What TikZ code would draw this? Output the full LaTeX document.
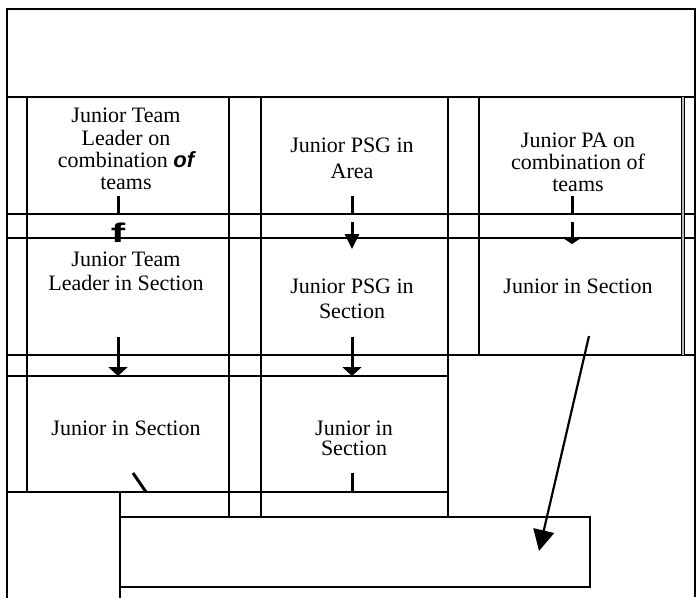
\documentclass[tikz,border=0pt]{standalone}
\usepackage{fontspec}
\usepackage{graphicx}
\setmainfont{Liberation Serif}
\newfontfamily\glitchfont{Liberation Sans}
\usetikzlibrary{arrows.meta}
\begin{document}
\begin{tikzpicture}[x=1pt,y=-1pt,
  grid/.style={line width=2.9pt, line cap=rect},
  edge/.style={line width=1.6pt},
  conn/.style={line width=3pt},
  tipA/.style={-{Triangle[length=9pt,width=19pt]}},
  tipB/.style={-{Triangle[length=15pt,width=14pt]}},
  tipC/.style={-{Triangle[length=6pt,width=18pt]}},
  tipD/.style={-{Triangle[length=21pt,width=21pt]}},
  lbl/.style={anchor=north, align=center, inner sep=0pt, font=\fontsize{22}{22.3}\selectfont},
]
\useasboundingbox (0,0) rectangle (696,597);

% outer frame
\draw[grid] (7,597) -- (7,9) -- (695,9);
\draw[edge] (695,9) -- (695,597);

% horizontal rules
\draw[grid] (7,97) -- (695,97);
\draw[grid] (7,214) -- (695,214);
\draw[grid] (7,238) -- (695,238);
\draw[grid] (7,355) -- (695,355);
\draw[grid] (7,376) -- (448,376);
\draw[grid] (7,492) -- (448,492);

% vertical rules
\draw[grid] (27,97) -- (27,492);
\draw[grid] (229,97) -- (229,517);
\draw[grid] (261,97) -- (261,517);
\draw[grid] (448,97) -- (448,517);
\draw[grid] (479,97) -- (479,355);
\fill[gray!55] (681,97) rectangle (685,355);
\draw[line width=1.1pt] (681.5,97) -- (681.5,355);
\draw[line width=1.1pt] (684.5,97) -- (684.5,355);
\draw[grid] (120,492) -- (120,597);

% lower box
\draw[grid] (120,517) -- (590,517) -- (590,587) -- (120,587);

% texts
\node[lbl] (tlc) at (126,108) {Junior Team\\Leader on\\combination {\glitchfont\bfseries\itshape of}\\teams};
\node[lbl, font=\fontsize{22}{24}\selectfont] (tls) at (126,251.5) {Junior Team\\Leader in Section};
\node[lbl, font=\fontsize{22}{26}\selectfont] (psga) at (352,138) {Junior PSG in\\Area};
\node[lbl, font=\fontsize{22}{25}\selectfont] (psgs) at (352,279) {Junior PSG in\\Section};
\node[lbl, font=\fontsize{22}{22}\selectfont] (pac) at (578,133) {Junior PA on\\combination of\\teams};
\node[lbl] (pas) at (578,279) {Junior in Section};
\node[lbl] (bls) at (126,421) {Junior in Section};
\node[lbl, font=\fontsize{22}{20}\selectfont] (bms) at (354,421) {Junior in\\Section};

% glyph-like arrowhead under first box
\node[anchor=base, inner sep=0pt, font=\glitchfont\fontsize{27}{27}\bfseries\selectfont] (fglyph) at (118,242) {\scalebox{1.6}[1]{f}};

% connector coordinates
\coordinate (a1) at (118,196);
\coordinate (a2) at (118,214);
\coordinate (b1) at (352,196);
\coordinate (b2) at (352,214);
\coordinate (b3) at (352,222);
\coordinate (b4) at (352,249);
\coordinate (c1) at (572,196);
\coordinate (c2) at (572,214);
\coordinate (c3) at (572,222);
\coordinate (c4) at (572,244);
\coordinate (d1) at (118,337);
\coordinate (d2) at (118,376);
\coordinate (e1) at (352,337);
\coordinate (e2) at (352,376);
\coordinate (f1) at (352,473);
\coordinate (f2) at (352,492);
\coordinate (g1) at (133,473);
\coordinate (g2) at (146,492);
\coordinate (h1) at (589,336);
\coordinate (h2) at (539,551);

% connectors
\draw[conn] (a1) -- (a2);
\draw[conn] (b1) -- (b2);
\draw[conn, tipB] (b3) -- (b4);
\draw[conn] (c1) -- (c2);
\draw[conn, tipC] (c3) -- (c4);
\draw[conn, tipA] (d1) -- (d2);
\draw[conn, tipA] (e1) -- (e2);
\draw[conn] (f1) -- (f2);
\draw[conn] (g1) -- (g2);
\draw[line width=2.2pt, tipD] (h1) -- (h2);
\end{tikzpicture}
\end{document}
